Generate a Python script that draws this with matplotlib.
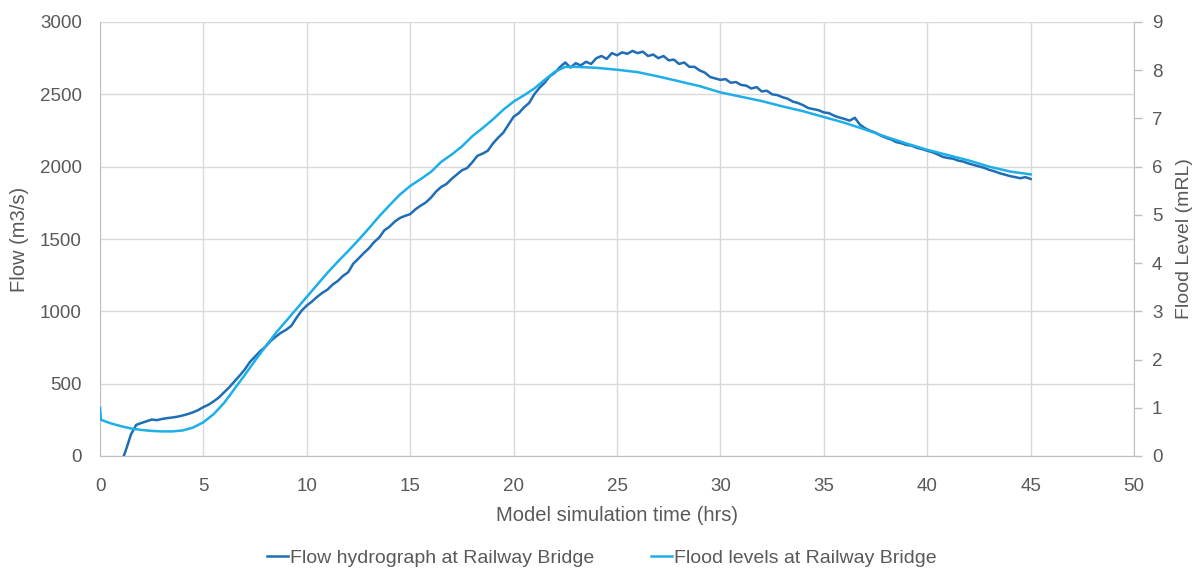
import numpy as np
import matplotlib
matplotlib.use("Agg")
import matplotlib.pyplot as plt

# Flow hydrograph at Railway Bridge (m3/s), hours since start of the simulation
flow_time = [0.0, 0.02, 1.0, 1.05, 1.15] + [1.25 + 0.25 * i for i in range(176)]
flow_vals = [0, np.nan, 0, np.nan, 0,
             40, 150, 215, 228, 240, 252, 248, 256, 262, 266, 272, 280,
             290, 302, 318, 338, 355, 378, 405, 440, 475, 515, 555, 598,
             650, 688, 725, 755, 795, 825, 852, 872, 900, 955, 1005, 1040,
             1068, 1100, 1128, 1150, 1185, 1210, 1245, 1270, 1330, 1365, 1402, 1435,
             1478, 1510, 1560, 1585, 1620, 1645, 1660, 1672, 1705, 1730, 1752, 1785,
             1828, 1860, 1880, 1915, 1945, 1975, 1990, 2030, 2075, 2090, 2110, 2160,
             2200, 2235, 2290, 2345, 2370, 2410, 2440, 2500, 2545, 2580, 2625, 2650,
             2690, 2720, 2685, 2715, 2700, 2725, 2710, 2750, 2765, 2745, 2785, 2770,
             2790, 2780, 2800, 2785, 2795, 2765, 2775, 2750, 2765, 2735, 2740, 2710,
             2720, 2690, 2690, 2665, 2650, 2620, 2610, 2600, 2605, 2580, 2585, 2565,
             2560, 2540, 2550, 2520, 2525, 2500, 2495, 2480, 2470, 2450, 2440, 2425,
             2405, 2398, 2390, 2375, 2370, 2352, 2340, 2330, 2318, 2338, 2290, 2265,
             2248, 2235, 2215, 2200, 2188, 2170, 2162, 2150, 2145, 2130, 2122, 2110,
             2100, 2085, 2068, 2060, 2055, 2042, 2035, 2022, 2012, 2002, 1992, 1978,
             1968, 1955, 1945, 1935, 1928, 1920, 1928, 1915]

# Flood levels at Railway Bridge (mRL)
level_time = [0.0, 0.05, 0.5, 1.0, 1.5, 2.0, 2.5, 3.0, 3.5, 4.0, 4.5, 5.0, 5.5,
              6.0, 6.5, 7.0, 7.5, 8.0, 8.5, 9.0, 9.5, 10.0, 10.5, 11.0, 11.5,
              12.0, 12.5, 13.0, 13.5, 14.0, 14.5, 15.0, 15.5, 16.0, 16.5, 17.0,
              17.5, 18.0, 18.5, 19.0, 19.5, 20.0, 20.5, 21.0, 21.5, 22.0, 22.5,
              23.0, 24.0, 25.0, 26.0, 27.0, 28.0, 29.0, 30.0, 31.0, 32.0, 33.0,
              34.0, 35.0, 36.0, 37.0, 38.0, 39.0, 40.0, 41.0, 42.0, 43.0, 44.0, 45.0]
level_vals = [1.00, 0.75, 0.68, 0.62, 0.57, 0.54, 0.52, 0.51, 0.51, 0.53, 0.59, 0.70, 0.87,
              1.10, 1.39, 1.68, 1.98, 2.27, 2.55, 2.80, 3.05, 3.30, 3.55, 3.80, 4.03,
              4.25, 4.48, 4.72, 4.97, 5.20, 5.42, 5.60, 5.74, 5.89, 6.10, 6.25,
              6.42, 6.63, 6.80, 6.98, 7.18, 7.35, 7.48, 7.62, 7.80, 7.97, 8.07,
              8.07, 8.05, 8.01, 7.96, 7.87, 7.77, 7.67, 7.54, 7.45, 7.36, 7.25,
              7.15, 7.03, 6.91, 6.77, 6.62, 6.48, 6.35, 6.24, 6.13, 6.00, 5.90, 5.84]

x_ticks = list(range(0, 51, 5))
flow_ticks = list(range(0, 3001, 500))
level_ticks = list(range(0, 10))

dark_blue = "#1f6db5"
light_blue = "#1eaee8"
text_grey = "#595959"
grid_grey = "#d9d9d9"
axis_grey = "#bfbfbf"

plt.rcParams["font.family"] = ["Liberation Sans", "DejaVu Sans"]

fig = plt.figure(figsize=(11.96, 5.70), dpi=100)
ax = fig.add_axes([100 / 1196, 1 - 456 / 570, (1134 - 100) / 1196, (456 - 22) / 570])
ax2 = ax.twinx()

ax.plot(flow_time, flow_vals, color=dark_blue, lw=1.8, solid_joinstyle="round",
        label="Flow hydrograph at Railway Bridge", zorder=3)
ax2.plot(level_time, level_vals, color=light_blue, lw=1.8,
         label="Flood levels at Railway Bridge", zorder=3)

ax.set_xlim(0, 50)
ax.set_ylim(0, 3000)
ax2.set_ylim(0, 9)
ax.set_xticks(x_ticks)
ax.set_yticks(flow_ticks)
ax2.set_yticks(level_ticks)

ax.grid(True, color=grid_grey, lw=1.0)
ax.set_axisbelow(True)

for a in (ax, ax2):
    for s in a.spines.values():
        s.set_visible(False)
ax.spines["bottom"].set_visible(True)
ax.spines["bottom"].set_color(axis_grey)
ax.spines["left"].set_visible(True)
ax.spines["left"].set_color(axis_grey)
ax2.spines["right"].set_visible(True)
ax2.spines["right"].set_color(axis_grey)

ax.tick_params(axis="x", length=0, labelsize=13.5, colors=text_grey, pad=16)
ax.tick_params(axis="y", length=0, labelsize=13.5, colors=text_grey, pad=13)
ax2.tick_params(axis="y", length=6, width=1, color=axis_grey, labelsize=13.5,
                labelcolor=text_grey, pad=7)

ax.set_xlabel("Model simulation time (hrs)", fontsize=14.5, color=text_grey, labelpad=8)
ax.set_ylabel("Flow (m3/s)", fontsize=14.5, color=text_grey, labelpad=8)
ax2.set_ylabel("Flood Level (mRL)", fontsize=14, color=text_grey, labelpad=10)

h1, l1 = ax.get_legend_handles_labels()
h2, l2 = ax2.get_legend_handles_labels()
fig.legend(h1 + h2, l1 + l2, loc="center", bbox_to_anchor=(0.503, 1 - 558 / 570),
           ncol=2, frameon=False, labelcolor=text_grey,
           handlelength=1.1, handletextpad=0.1, columnspacing=2.9,
           prop={"family": ["Liberation Sans", "DejaVu Sans"], "size": 14})

fig.savefig("out.png", dpi=100)
